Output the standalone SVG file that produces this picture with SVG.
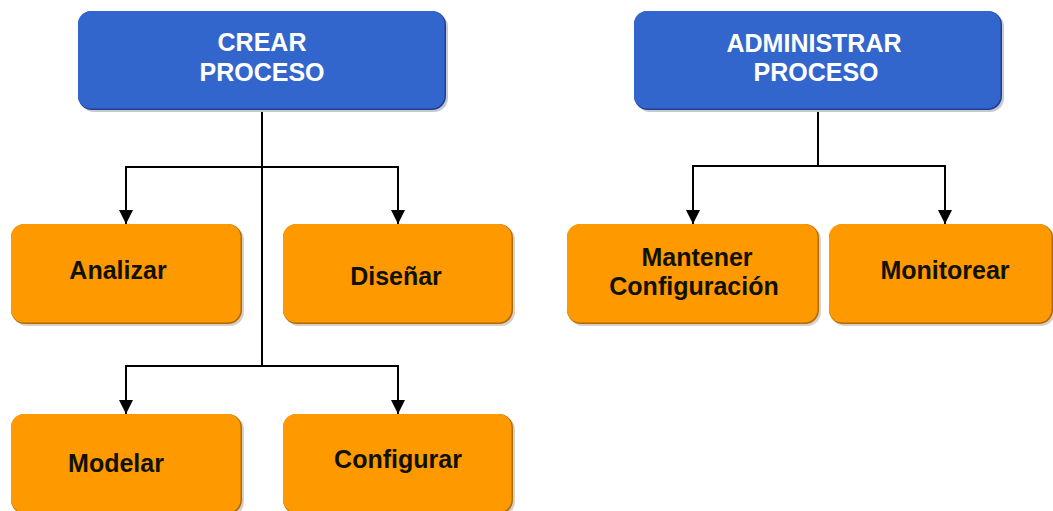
<svg xmlns="http://www.w3.org/2000/svg" width="1053" height="511" viewBox="0 0 1053 511">
  <defs>
    <style>
      .lbl { font-family: "Liberation Sans", Arial, sans-serif; font-weight: bold; font-size: 25px; text-anchor: middle; }
      .head .shade { fill: #c8c8d0; }
      .head .edge { fill: #1f3f94; }
      .head .face { fill: #3366cc; }
      .head text { fill: #ffffff; }
      .task .shade { fill: #d6d0c8; }
      .task .edge { fill: #b06a00; }
      .task .face { fill: #ff9900; }
      .task text { fill: #111100; }
      .wire { fill: none; stroke: #000000; stroke-width: 2; }
    </style>
    <marker id="arrow" viewBox="0 0 14 14" refX="14" refY="7" markerWidth="14" markerHeight="14" markerUnits="userSpaceOnUse" orient="auto">
      <path d="M0,0 L14,7 L0,14 Z" fill="#000000"/>
    </marker>
  </defs>

  <rect width="1053" height="511" fill="#ffffff"/>

  <!-- connectors -->
  <g id="connectors">
    <path class="wire" d="M262,108 V367"/>
    <path class="wire" d="M262,167 H126 V224" marker-end="url(#arrow)"/>
    <path class="wire" d="M262,167 H398 V224" marker-end="url(#arrow)"/>
    <path class="wire" d="M262,366 H126 V414" marker-end="url(#arrow)"/>
    <path class="wire" d="M262,366 H398 V414" marker-end="url(#arrow)"/>
    <path class="wire" d="M818,108 V166"/>
    <path class="wire" d="M818,166 H693 V224" marker-end="url(#arrow)"/>
    <path class="wire" d="M818,166 H945 V224" marker-end="url(#arrow)"/>
  </g>

  <!-- top-level processes -->
  <g id="crear" class="head">
    <rect class="shade" x="80" y="13" width="368" height="99" rx="14"/>
    <rect class="edge" x="78" y="11" width="368" height="99" rx="14"/>
    <rect class="face" x="78" y="11" width="366.5" height="97.5" rx="13"/>
    <text class="lbl" x="262" y="51">CREAR</text>
    <text class="lbl" x="262" y="81">PROCESO</text>
  </g>

  <g id="administrar" class="head">
    <rect class="shade" x="636" y="13" width="368" height="99" rx="14"/>
    <rect class="edge" x="634" y="11" width="368" height="99" rx="14"/>
    <rect class="face" x="634" y="11" width="366.5" height="97.5" rx="13"/>
    <text class="lbl" x="814" y="52">ADMINISTRAR</text>
    <text class="lbl" x="816" y="81">PROCESO</text>
  </g>

  <!-- sub-processes -->
  <g id="analizar" class="task">
    <rect class="shade" x="13" y="226" width="231" height="100" rx="14"/>
    <rect class="edge" x="11" y="224" width="231" height="100" rx="14"/>
    <rect class="face" x="11" y="224" width="229.5" height="98.5" rx="13"/>
    <text class="lbl" x="118" y="279">Analizar</text>
  </g>

  <g id="disenar" class="task">
    <rect class="shade" x="285" y="226" width="230" height="100" rx="14"/>
    <rect class="edge" x="283" y="224" width="230" height="100" rx="14"/>
    <rect class="face" x="283" y="224" width="228.5" height="98.5" rx="13"/>
    <text class="lbl" x="396" y="285">Diseñar</text>
  </g>

  <g id="modelar" class="task">
    <rect class="shade" x="13" y="416" width="231" height="100" rx="14"/>
    <rect class="edge" x="11" y="414" width="231" height="100" rx="14"/>
    <rect class="face" x="11" y="414" width="229.5" height="98.5" rx="13"/>
    <text class="lbl" x="116" y="472">Modelar</text>
  </g>

  <g id="configurar" class="task">
    <rect class="shade" x="285" y="416" width="230" height="100" rx="14"/>
    <rect class="edge" x="283" y="414" width="230" height="100" rx="14"/>
    <rect class="face" x="283" y="414" width="228.5" height="98.5" rx="13"/>
    <text class="lbl" x="398" y="468">Configurar</text>
  </g>

  <g id="mantener" class="task">
    <rect class="shade" x="569" y="226" width="252" height="100" rx="14"/>
    <rect class="edge" x="567" y="224" width="252" height="100" rx="14"/>
    <rect class="face" x="567" y="224" width="250.5" height="98.5" rx="13"/>
    <text class="lbl" x="697" y="266">Mantener</text>
    <text class="lbl" x="694" y="295">Configuración</text>
  </g>

  <g id="monitorear" class="task">
    <rect class="shade" x="831" y="226" width="224" height="100" rx="14"/>
    <rect class="edge" x="829" y="224" width="224" height="100" rx="14"/>
    <rect class="face" x="829" y="224" width="222.5" height="98.5" rx="13"/>
    <text class="lbl" x="945" y="279">Monitorear</text>
  </g>
</svg>
